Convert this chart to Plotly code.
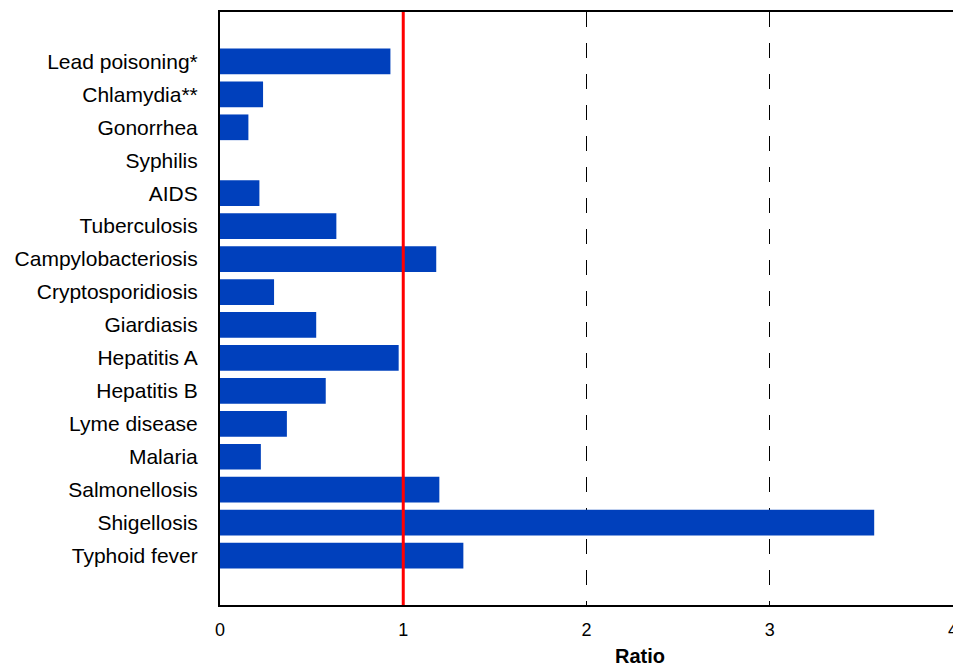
import plotly.graph_objects as go

diseases = ["Lead poisoning*", "Chlamydia**", "Gonorrhea", "Syphilis", "AIDS",
            "Tuberculosis", "Campylobacteriosis", "Cryptosporidiosis", "Giardiasis",
            "Hepatitis A", "Hepatitis B", "Lyme disease", "Malaria", "Salmonellosis",
            "Shigellosis", "Typhoid fever"]
ratios = [0.93, 0.235, 0.155, 0.0, 0.215, 0.635, 1.18, 0.295, 0.525,
          0.975, 0.577, 0.365, 0.223, 1.197, 3.57, 1.328]
x_ticks = [0, 1, 2, 3, 4]
reference_ratio = 1

FONT = "Liberation Sans, Arial, sans-serif"
BAR_COLOR = "#0040BC"

fig = go.Figure()
fig.add_trace(go.Bar(
    y=diseases, x=ratios, orientation="h",
    marker=dict(color=BAR_COLOR, line=dict(width=0)),
    width=0.78,
    showlegend=False,
))

fig.add_shape(type="line", xref="x", yref="paper",
              x0=reference_ratio, x1=reference_ratio, y0=0, y1=1,
              line=dict(color="#FF0000", width=3), layer="above")

fig.add_annotation(text="<b>Ratio</b>", xref="paper", yref="paper",
                   x=0.573, y=0, yshift=-51, showarrow=False,
                   font=dict(family=FONT, size=20, color="black"),
                   xanchor="center", yanchor="middle")

fig.update_layout(
    width=953, height=665,
    margin=dict(l=220, r=0, t=12, b=60, autoexpand=False),
    paper_bgcolor="white", plot_bgcolor="white",
    font=dict(family=FONT, color="black"),
    bargap=0.2,
)
fig.update_xaxes(
    range=[0, 4], tickvals=x_ticks, ticktext=[str(t) for t in x_ticks],
    showgrid=True, gridcolor="black", gridwidth=1, griddash="15px,16px",
    showline=True, linecolor="black", linewidth=1.5, mirror=True,
    ticks="", ticklabelstandoff=8, ticklabeloverflow="allow",
    tickfont=dict(family=FONT, size=18, color="black"),
    zeroline=False, automargin=False,
)
fig.update_yaxes(
    type="category", categoryorder="array", categoryarray=diseases,
    range=[16.5, -1.5],
    showgrid=False, showline=True, linecolor="black", linewidth=2,
    ticks="", ticklabelstandoff=16,
    tickfont=dict(family=FONT, size=21, color="black"),
    zeroline=False, automargin=False,
)

fig.write_html(
    "out.html",
    config={"displayModeBar": False},
    post_script="document.body.style.margin='0';document.body.style.overflow='hidden';",
)
